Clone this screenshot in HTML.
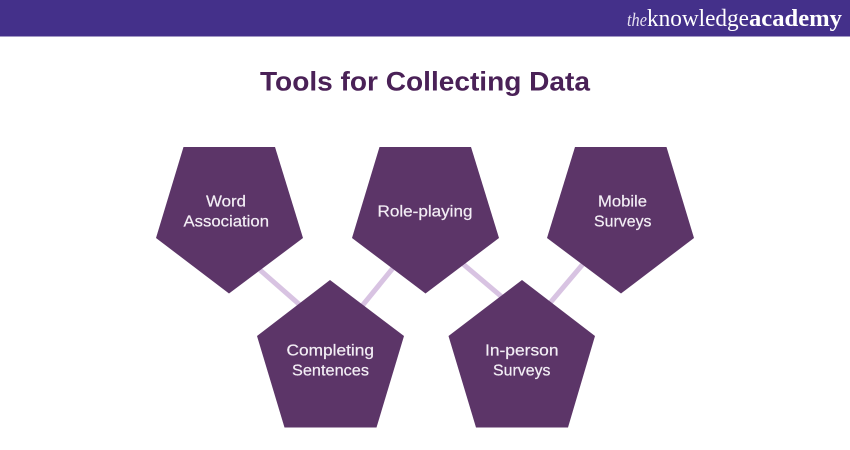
<!DOCTYPE html>
<html><head><meta charset="utf-8">
<style>html,body{margin:0;padding:0;background:#fff}svg{display:block}
text{font-family:"Liberation Sans",sans-serif}</style></head>
<body>
<svg width="850" height="450" viewBox="0 0 850 450" xmlns="http://www.w3.org/2000/svg">
<rect width="850" height="450" fill="#fff"/>
<rect width="850" height="36.5" fill="#44308a"/>
<text x="627" y="26" fill="#e6e1f0" font-size="19" font-style="italic" style="font-family:'Liberation Serif',serif" textLength="20" lengthAdjust="spacingAndGlyphs">the</text>
<text x="647" y="26" fill="#fff" font-size="24" style="font-family:'Liberation Serif',serif" textLength="102" lengthAdjust="spacingAndGlyphs">knowledge</text>
<text x="749" y="26" fill="#fff" font-size="24" font-weight="bold" style="font-family:'Liberation Serif',serif" textLength="93" lengthAdjust="spacingAndGlyphs">academy</text>
<text x="260" y="90.5" fill="#4a2157" font-size="26.5" font-weight="bold" textLength="330" lengthAdjust="spacingAndGlyphs">Tools for Collecting Data</text>
<g stroke="#d8c3e2" stroke-width="5" fill="none">
<line x1="260" y1="270" x2="300" y2="305"/>
<line x1="393" y1="268" x2="362" y2="306"/>
<line x1="463" y1="264" x2="502" y2="297"/>
<line x1="583" y1="264" x2="550" y2="303"/>
</g>
<g fill="#5c3568">
<polygon points="183.5,147 275,147 303,238 229,293.5 156,238"/>
<polygon points="379.5,147 471,147 499,238 425.5,293.5 352,238"/>
<polygon points="575,147 666.5,147 694,238 621,293.5 547,238"/>
<polygon points="330,280 404,336 376.5,427.5 284.5,427.5 257,336"/>
<polygon points="522,280 595,336 568,427.5 476,427.5 448.5,336"/>
</g>
<g fill="#f3eef5" font-size="15.5" stroke="#f3eef5" stroke-width="0.2">
<text x="206" y="206.5" textLength="40" lengthAdjust="spacingAndGlyphs">Word</text>
<text x="183.5" y="226.5" textLength="85.5" lengthAdjust="spacingAndGlyphs">Association</text>
<text x="377.5" y="216.5" textLength="95" lengthAdjust="spacingAndGlyphs">Role-playing</text>
<text x="598" y="206.5" textLength="49" lengthAdjust="spacingAndGlyphs">Mobile</text>
<text x="594" y="226.5" textLength="57.5" lengthAdjust="spacingAndGlyphs">Surveys</text>
<text x="286.5" y="355.5" textLength="87.5" lengthAdjust="spacingAndGlyphs">Completing</text>
<text x="292" y="375.5" textLength="77" lengthAdjust="spacingAndGlyphs">Sentences</text>
<text x="485" y="355.5" textLength="73.5" lengthAdjust="spacingAndGlyphs">In-person</text>
<text x="493" y="375.5" textLength="57.5" lengthAdjust="spacingAndGlyphs">Surveys</text>
</g>
</svg>
</body></html>
